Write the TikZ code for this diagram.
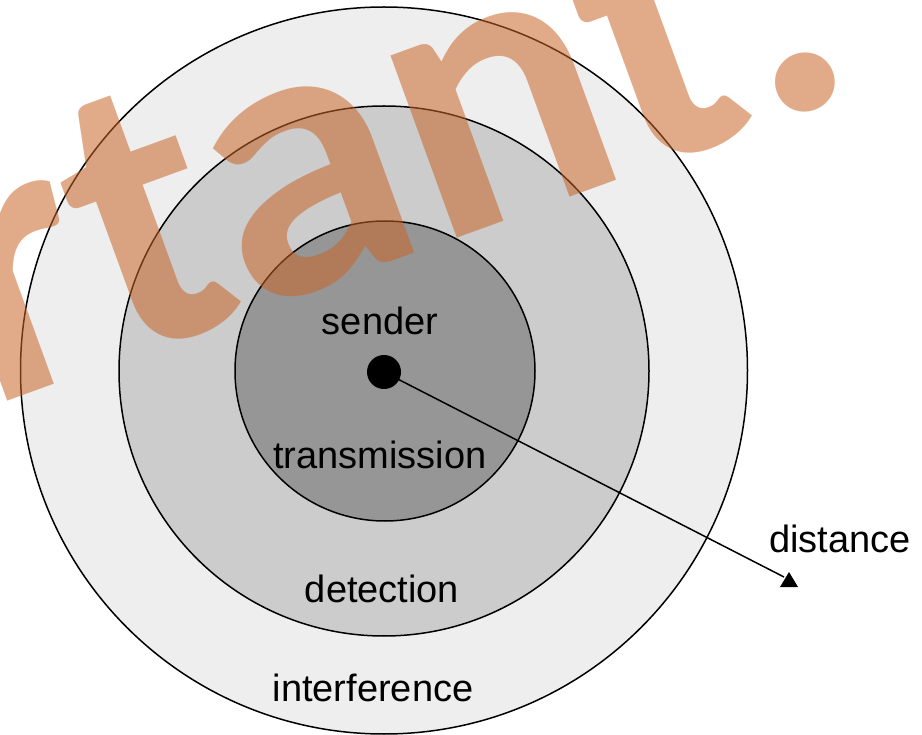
\documentclass[tikz,border=0pt]{standalone}
\usepackage{fontspec}
\setmainfont{Liberation Sans}
\newfontfamily\markfont{Carlito}
\definecolor{ringout}{gray}{0.933}
\definecolor{ringmid}{gray}{0.8}
\definecolor{ringin}{gray}{0.588}
\definecolor{markcol}{RGB}{200,100,40}
\begin{document}
\begin{tikzpicture}[y=1pt, x=1pt, yscale=-1, inner sep=0pt, outer sep=0pt,
	ring/.style={circle, draw=black, line width=1.5},
	lbl/.style={anchor=base, font=\fontsize{38}{40}\selectfont}]
\useasboundingbox (0,0) rectangle (922,735);
	% rings, outermost first
	\node[ring, fill=ringout, minimum size=727] (interf) at (384,370.5) {};
	\node[ring, fill=ringmid, minimum size=530] (detect) at (384,371) {};
	\node[ring, fill=ringin, minimum size=300] (trans) at (385,371) {};
	% watermark
	\node[rotate=20, anchor=base east, text=markcol, text opacity=0.55] (mark) at (866,89) {\markfont\bfseries\fontsize{400}{400}\selectfont rtant:};
	% sender and distance arrow
	\node[circle, fill=black, minimum size=34] (sender) at (384,372) {};
	\coordinate (tip) at (784,577);
	\draw[line width=1.5] (sender) -- (tip);
	\fill (tip) ++(5,-5) -- ++(-9,15) -- ++(18,0) -- cycle;
	% labels
	\node[lbl] (lsend) at (380,335) {sender};
	\node[lbl] (ltrans) at (380,469) {transmission};
	\node[lbl] (ldet) at (382,602) {detection};
	\node[lbl] (lint) at (373,701) {interference};
	\node[lbl] (ldist) at (840,552) {distance};
\end{tikzpicture}
\end{document}
